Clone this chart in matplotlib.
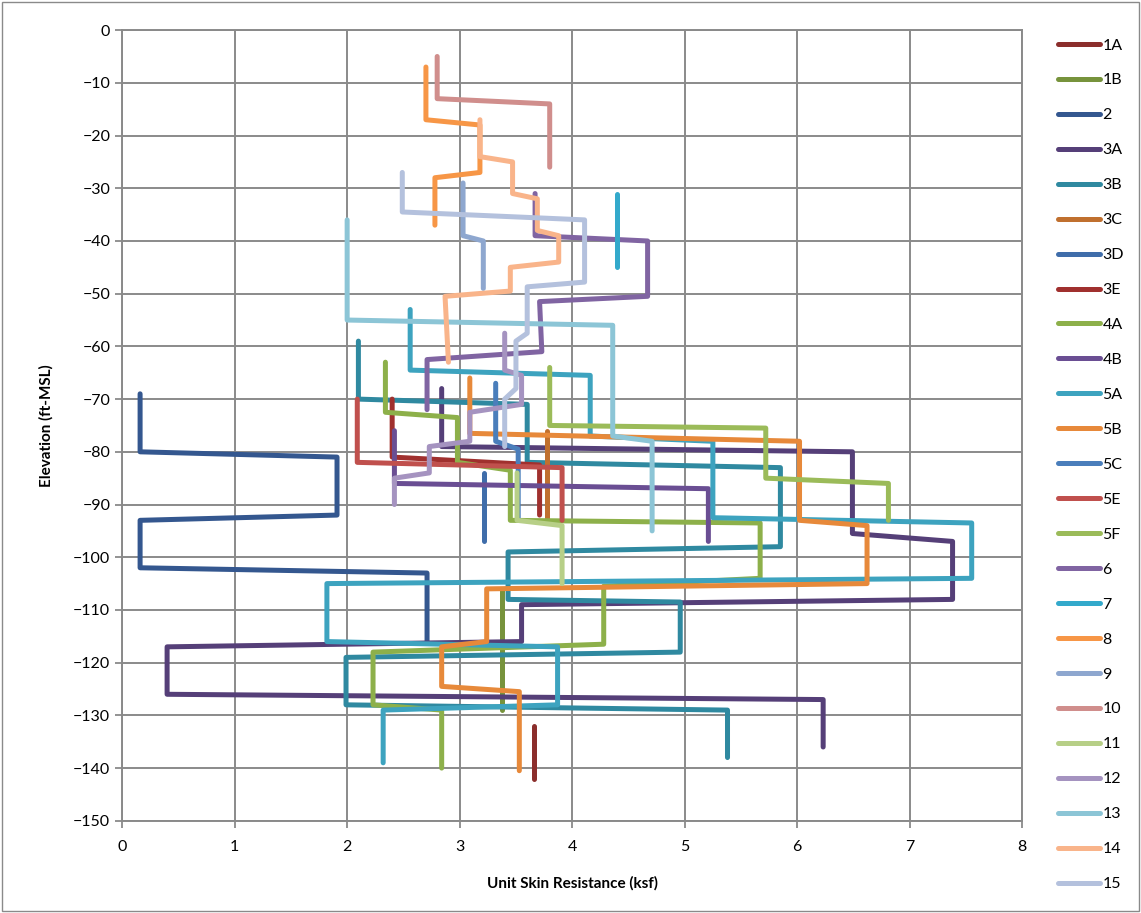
import numpy as np
import matplotlib
matplotlib.use("Agg")
import matplotlib.pyplot as plt
from matplotlib.patches import Rectangle

plt.rcParams['font.family'] = ['Lato', 'DejaVu Sans']

# Skin resistance (ksf) vs elevation (ft-MSL), step profiles
s1A_x = [3.66, 3.66]
s1A_y = [-132, -142]
s1B_x = [3.38, 3.38]
s1B_y = [-106, -129]
s2_x = [0.16, 0.16, 1.91, 1.91, 0.16, 0.16, 2.71, 2.71]
s2_y = [-69, -80, -81, -92, -93, -102, -103, -116]
s3A_x = [2.84, 2.84, 6.49, 6.49, 7.38, 7.38, 3.55, 3.55, 0.40, 0.40, 6.23, 6.23]
s3A_y = [-68, -79, -80, -95.5, -97, -108, -109, -116, -117, -126, -127, -136]
s3B_x = [2.10, 2.10, 3.60, 3.60, 5.85, 5.85, 3.43, 3.43, 4.96, 4.96, 1.99, 1.99, 5.38, 5.38]
s3B_y = [-59, -70, -71, -82, -83, -98, -99, -108, -108.5, -118, -119, -128, -129, -138]
s3C_x = [3.78, 3.78]
s3C_y = [-76, -93]
s3D_x = [3.22, 3.22]
s3D_y = [-84, -97]
s3E_x = [2.40, 2.40, 3.71, 3.71]
s3E_y = [-70, -81, -82.5, -92]
s4A_x = [2.34, 2.34, 2.98, 2.98, 3.45, 3.45, 5.67, 5.67, 4.28, 4.28, 2.23, 2.23, 2.84, 2.84]
s4A_y = [-63, -72.5, -73.5, -82, -83.5, -93, -93.5, -104, -105.5, -116.5, -118, -128, -129, -140]
s4B_x = [2.42, 2.42, 5.21, 5.21]
s4B_y = [-76, -86, -87, -97]
s5A_x = [2.56, 2.56, 4.16, 4.16, 5.25, 5.25, 7.55, 7.55, 1.82, 1.82, 3.87, 3.87, 2.32, 2.32]
s5A_y = [-53, -64.5, -65.5, -77, -78, -92.5, -93.5, -104, -105, -116, -117, -128, -129, -139]
s5B_x = [3.09, 3.09, 6.02, 6.02, 6.62, 6.62, 3.24, 3.24, 2.84, 2.84, 3.53, 3.53]
s5B_y = [-66, -76.5, -78, -93, -94, -105, -106, -116, -117, -124.5, -125.5, -140.5]
s5C_x = [3.32, 3.32, 3.52, 3.52]
s5C_y = [-67, -78, -79.5, -92.5]
s5E_x = [2.09, 2.09, 3.91, 3.91]
s5E_y = [-70, -82, -83, -93]
s5F_x = [3.80, 3.80, 5.72, 5.72, 6.81, 6.81]
s5F_y = [-64, -75, -75.5, -85, -86, -93]
s6_x = [3.67, 3.67, 4.67, 4.67, 3.71, 3.73, 2.71, 2.71]
s6_y = [-31, -39, -40, -50.5, -51.5, -61, -62.5, -72]
s7_x = [4.40, 4.40]
s7_y = [-31, -45]
s8_x = [2.70, 2.70, 3.18, 3.18, 2.78, 2.78]
s8_y = [-7, -17, -18, -27, -28, -37]
s9_x = [3.03, 3.03, 3.21, 3.21]
s9_y = [-29, -39, -40, -49]
s10_x = [2.80, 2.80, 3.80, 3.80]
s10_y = [-5, -13, -14, -26]
s11_x = [3.51, 3.51, 3.91, 3.91]
s11_y = [-84, -93, -94, -105]
s12_x = [3.40, 3.40, 3.55, 3.55, 3.09, 3.09, 2.73, 2.73, 2.42, 2.42]
s12_y = [-57.5, -64.5, -65.5, -71, -72.5, -78, -79, -84, -85, -90]
s13_x = [2.00, 2.00, 4.36, 4.36, 4.71, 4.71]
s13_y = [-36, -55, -56, -77, -78, -95]
s14_x = [3.18, 3.18, 3.47, 3.47, 3.69, 3.69, 3.88, 3.88, 3.45, 3.45, 2.87, 2.90]
s14_y = [-17, -24, -25, -31, -32, -38, -39, -44, -45, -49.5, -50.5, -63]
s15_x = [2.49, 2.49, 4.11, 4.11, 3.60, 3.60, 3.50, 3.50, 3.40, 3.40]
s15_y = [-27, -34.5, -36, -47.8, -48.7, -57.5, -59, -68, -70, -79]

labels = ['1A', '1B', '2', '3A', '3B', '3C', '3D', '3E', '4A', '4B', '5A', '5B',
          '5C', '5E', '5F', '6', '7', '8', '9', '10', '11', '12', '13', '14', '15']
colors = ['#8B2E2C', '#77933C', '#34578F', '#553F78', '#2F89A0', '#C0702F',
          '#3F6DAA', '#A0302E', '#8DB04A', '#6A4E93', '#3DA3BF', '#E7893A',
          '#4A7EBB', '#C0504D', '#9BBB59', '#8064A2', '#33A9CB', '#F79646',
          '#8EA7CF', '#D08E8C', '#B7CF87', '#A593C0', '#8CC5D6', '#F9B48A', '#B4C1DD']
xs = [s1A_x, s1B_x, s2_x, s3A_x, s3B_x, s3C_x, s3D_x, s3E_x, s4A_x, s4B_x, s5A_x, s5B_x,
      s5C_x, s5E_x, s5F_x, s6_x, s7_x, s8_x, s9_x, s10_x, s11_x, s12_x, s13_x, s14_x, s15_x]
ys = [s1A_y, s1B_y, s2_y, s3A_y, s3B_y, s3C_y, s3D_y, s3E_y, s4A_y, s4B_y, s5A_y, s5B_y,
      s5C_y, s5E_y, s5F_y, s6_y, s7_y, s8_y, s9_y, s10_y, s11_y, s12_y, s13_y, s14_y, s15_y]

fig = plt.figure(figsize=(11.41, 9.13), dpi=100)
ax = fig.add_axes([0.107, 0.101, 0.789, 0.866])

for x, y, c, lab in zip(xs, ys, colors, labels):
    ax.plot(x, y, color=c, lw=3.6, label=lab, solid_capstyle='round', solid_joinstyle='round')

ax.set_xlim(0, 8)
ax.set_ylim(-150, 0)
ax.set_xticks(range(0, 9))
ax.set_yticks(range(-150, 1, 10))
ax.grid(True, color='#8a8a8a', lw=1.4)
ax.set_axisbelow(True)
for sp in ax.spines.values():
    sp.set_color('#8a8a8a')
    sp.set_linewidth(1.4)
ax.tick_params(axis='both', colors='#8a8a8a', labelcolor='black', labelsize=11.5, length=5, width=1.3)
ax.tick_params(axis='x', pad=9)
ax.set_xlabel('Unit Skin Resistance (ksf)', fontsize=11, fontweight='bold', labelpad=16)
ax.set_ylabel('Elevation (ft-MSL)', fontsize=11, fontweight='bold', labelpad=14)

fig.legend(loc='upper left', bbox_to_anchor=(0.922, 0.965), frameon=False, fontsize=11.5,
           handlelength=2.6, handletextpad=0.15, labelspacing=1.30, borderaxespad=0)

fig.patches.append(Rectangle((0.002, 0.002), 0.996, 0.996, transform=fig.transFigure,
                             fill=False, edgecolor='#8a8a8a', lw=1))

fig.savefig('out.png', dpi=100)
